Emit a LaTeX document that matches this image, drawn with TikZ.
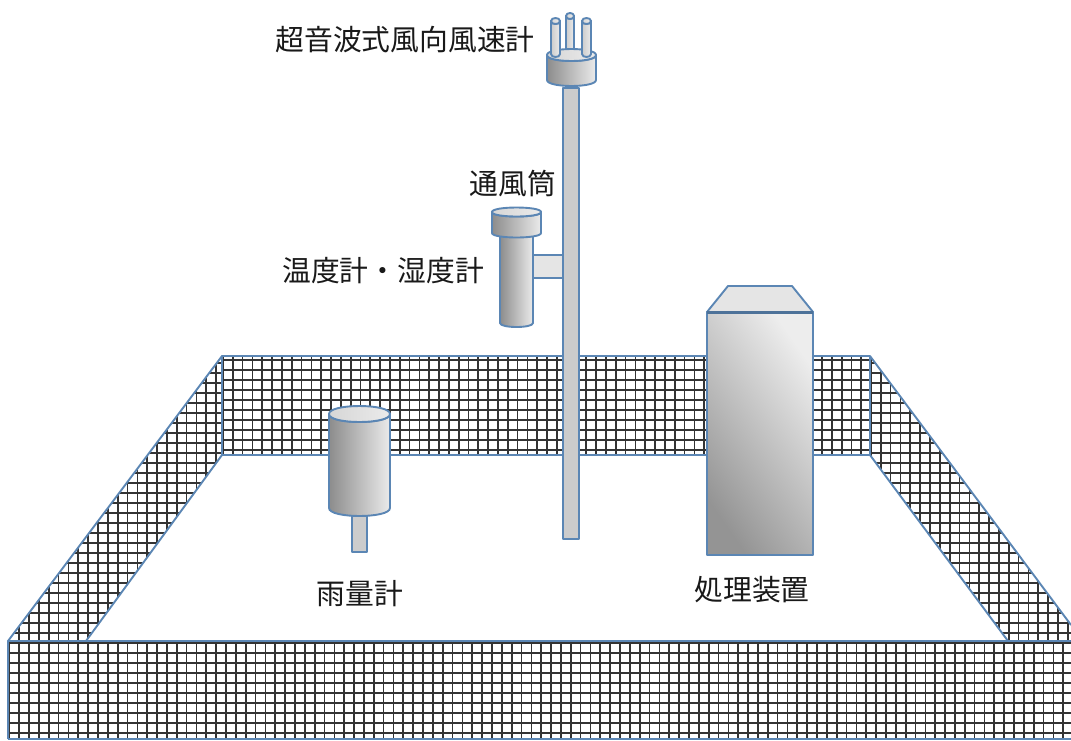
\documentclass[tikz,border=0pt]{standalone}
\usepackage{fontspec}
\setmainfont{Noto Sans CJK JP}
\definecolor{edge}{HTML}{5B86B4}
\definecolor{darkg}{gray}{0.55}
\definecolor{lightg}{gray}{0.92}
\definecolor{midg}{gray}{0.80}
\definecolor{capg}{gray}{0.90}
\definecolor{capd}{gray}{0.84}
\definecolor{boxd}{gray}{0.58}
\definecolor{boxl}{gray}{0.93}
\tikzset{
  outline/.style={draw=edge,line width=1.9pt,line join=round},
  gridline/.style={draw=black!80,line width=1.7pt},
  wall/.style={draw=edge,line width=1.9pt,line join=round},
  label/.style={font=\fontsize{28.8}{32}\selectfont,text=black!90,inner sep=0pt},
}
% \cyl{left}{right}{top}{bottom}{ry}{dark}{light}
\newcommand{\cyl}[7]{%
  \pgfmathsetmacro{\bc}{#4+1.333*#5}%
  \pgfmathsetmacro{\tcd}{#3+1.333*#5}%
  \pgfmathsetmacro{\tcu}{#3-1.333*#5}%
  \path[outline,left color=#6,right color=#7]
    (#1,#3) -- (#1,#4) .. controls (#1,\bc) and (#2,\bc) .. (#2,#4) -- (#2,#3)
    .. controls (#2,\tcd) and (#1,\tcd) .. (#1,#3) -- cycle;
  \path[outline,left color=capd,right color=lightg]
    (#1,#3) .. controls (#1,\tcu) and (#2,\tcu) .. (#2,#3)
    .. controls (#2,\tcd) and (#1,\tcd) .. (#1,#3) -- cycle;
}
\begin{document}
\begin{tikzpicture}[x=1pt,y=-1pt]
\useasboundingbox (0,0) rectangle (1071,740);
\fill[white] (0,0) rectangle (1071,740);
% back wall
\begin{scope}
\clip (222,356) rectangle (870,455);
\foreach \k in {0,...,66} \draw[gridline] ({223+9.82*\k},350) -- ({223+9.82*\k},460);
\foreach \k in {0,...,10} \draw[gridline] (215,{360+10*\k}) -- (880,{360+10*\k});
\end{scope}
% left wall
\begin{scope}
\clip (222,356) -- (8,641) -- (86,641) -- (222,455) -- cycle;
\foreach \k in {0,...,23} \draw[gridline] ({9.3+9.85*\k},350) -- ({9.3+9.85*\k},645);
\foreach \k in {0,...,29} \draw[gridline] (0,{353+10*\k}) -- (230,{353+10*\k});
\end{scope}
% right wall
\begin{scope}
\clip (870,356) -- (1071,625) -- (1071,641) -- (1008,641) -- (870,455) -- cycle;
\foreach \k in {0,...,22} \draw[gridline] ({861+9.85*\k},350) -- ({861+9.85*\k},645);
\foreach \k in {0,...,29} \draw[gridline] (860,{353+10*\k}) -- (1075,{353+10*\k});
\end{scope}
% front wall
\begin{scope}
\clip (8,641) rectangle (1071,740);
\foreach \k in {0,...,108} \draw[gridline] ({9.3+9.85*\k},640) -- ({9.3+9.85*\k},740);
\foreach \k in {0,...,9} \draw[gridline] (5,{643+10.02*\k}) -- (1071,{643+10.02*\k});
\end{scope}
% wall outlines
\path[wall] (222,356) rectangle (870,455);
\path[wall] (222,356) -- (8,641);
\path[wall] (86,641) -- (222,455);
\path[wall] (870,356) -- (1071,625);
\path[wall] (1008,641) -- (870,455);
\path[wall] (8,739) -- (8,641) -- (1071,641);
\path[wall] (8,739) -- (1071,739);
% pole
\path[outline,fill=midg] (563,88) rectangle (579,539);
% anemometer
\cyl{566}{574}{16}{50}{3}{midg}{lightg}
\cyl{547}{596}{55}{80}{6}{darkg}{lightg}
\cyl{551}{560}{21}{54}{3}{midg}{lightg}
\cyl{582}{591}{21}{54}{3}{midg}{lightg}
% ventilated shield
\path[outline,fill=capg] (533,255) rectangle (563,278);
\cyl{500}{533}{228}{323}{4}{darkg}{lightg}
\cyl{492}{541}{212}{233}{4.5}{darkg}{lightg}
% rain gauge
\path[outline,fill=midg] (352,505) rectangle (367,552);
\cyl{329}{390}{414}{508}{8}{darkg}{lightg}
% processing unit
\path[outline,fill=capg] (707,312) -- (728,286) -- (792,286) -- (813,312) -- cycle;
\path[outline,top color=boxl,bottom color=boxd,shading angle=-55] (707,312) rectangle (813,555);
\draw[edge!85!black,line width=3pt] (707,312) -- (813,312);
% labels
\node[label] (anem) at (405,40) {超音波式風向風速計};
\node[label] (shield) at (513,184) {通風筒};
\node[label] (thermo) at (383,271) {温度計・湿度計};
\node[label] (rain) at (360,594) {雨量計};
\node[label] (proc) at (752,590) {処理装置};
\end{tikzpicture}
\end{document}
